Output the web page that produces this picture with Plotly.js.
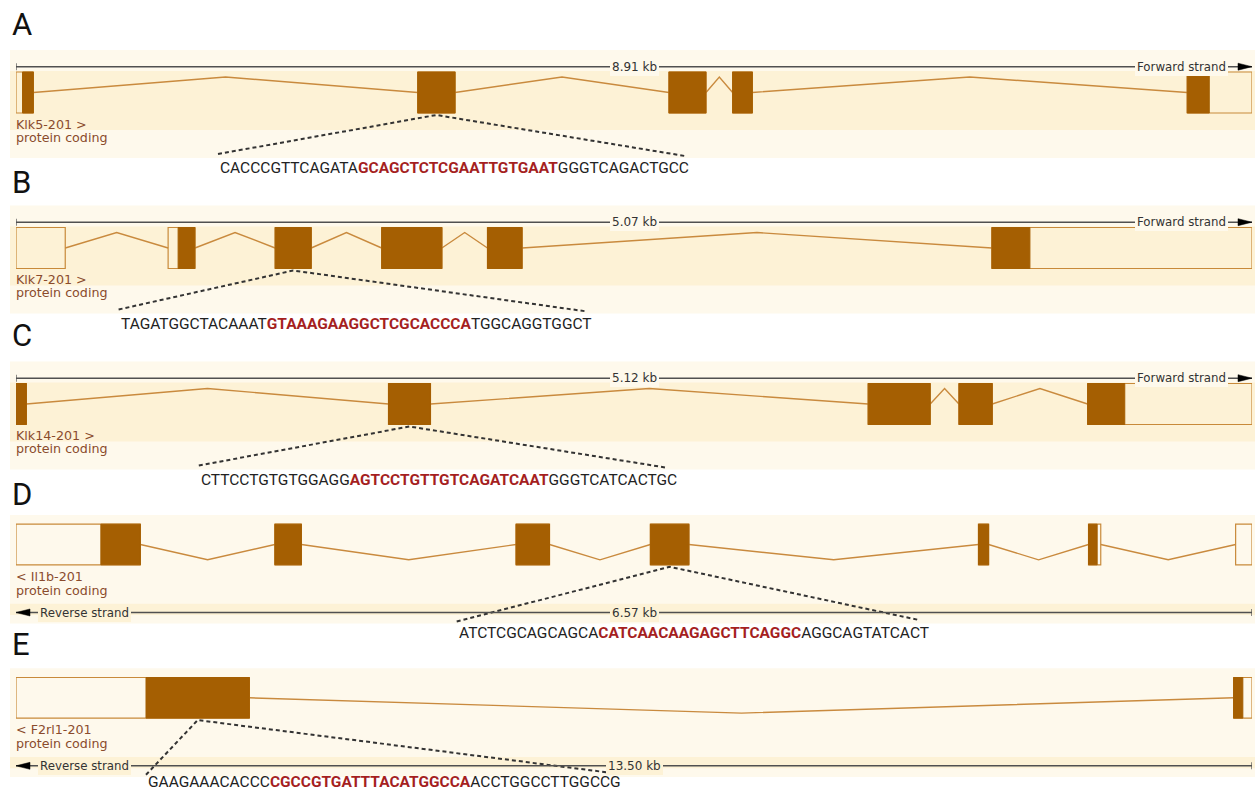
<!DOCTYPE html>
<html><head><meta charset="utf-8">
<script src="https://cdn.plot.ly/plotly-3.0.1.min.js"></script>
<style>html,body{margin:0;padding:0;background:#fff;}#chart{width:1255px;height:793px;}</style>
</head><body><div id="chart"></div>
<script>
// ---------------- data ----------------
const panelLetters = ['A', 'B', 'C', 'D', 'E'];
const transcripts = ['Klk5-201', 'Klk7-201', 'Klk14-201', 'Il1b-201', 'F2rl1-201'];
const biotypes = ['protein coding', 'protein coding', 'protein coding', 'protein coding', 'protein coding'];
const strands = ['forward', 'forward', 'forward', 'reverse', 'reverse'];
const lengthKb = [8.91, 5.07, 5.12, 6.57, 13.50];

// exon coordinates in kb from the left end of each track
const klk5Starts  = [0, 2.896, 4.707, 5.166, 8.443];
const klk5Ends    = [0.125, 3.165, 4.974, 5.308, 8.91];
const klk7Starts  = [0, 0.624, 1.063, 1.500, 1.934, 4.003];
const klk7Ends    = [0.202, 0.734, 1.211, 1.747, 2.076, 5.07];
const klk14Starts = [0, 1.543, 3.530, 3.906, 4.439];
const klk14Ends   = [0.043, 1.717, 3.787, 4.044, 5.12];
const il1bStarts  = [0, 1.376, 2.658, 3.372, 5.116, 5.701, 6.483];
const il1bEnds    = [0.661, 1.517, 2.836, 3.577, 5.170, 5.766, 6.57];
const f2rl1Starts = [0, 13.299];
const f2rl1Ends   = [2.549, 13.50];
const exonStarts = [klk5Starts, klk7Starts, klk14Starts, il1bStarts, f2rl1Starts];
const exonEnds   = [klk5Ends, klk7Ends, klk14Ends, il1bEnds, f2rl1Ends];

// coding region (kb) of each transcript
const cdsStartKb = [0.047, 0.665, 0, 0.451, 1.42];
const cdsEndKb   = [8.602, 4.159, 4.593, 5.747, 13.40];

// exon targeted by the guide (0-based)
const guideExon = [1, 2, 1, 3, 0];

// guide sequences (flank, guide, flank)
const seqBefore = ['CACCCGTTCAGATA', 'TAGATGGCTACAAAT', 'CTTCCTGTGTGGAGG', 'ATCTCGCAGCAGCA', 'GAAGAAACACCC'];
const seqGuide  = ['GCAGCTCTCGAATTGTGAAT', 'GTAAAGAAGGCTCGCACCCA', 'AGTCCTGTTGTCAGATCAAT', 'CATCAACAAGAGCTTCAGGC', 'CGCCGTGATTTACATGGCCA'];
const seqAfter  = ['GGGTCAGACTGCC', 'TGGCAGGTGGCT', 'GGGTCATCACTGC', 'AGGCAGTATCACT', 'ACCTGGCCTTGGCCG'];

// ---------------- layout / style ----------------
const W = 1255, H = 793;
const TRACK_L = 16, TRACK_R = 1252;
const panelTop = [50, 205.5, 361.5, 515, 668.3];
const letterY = [24, 182, 335, 494, 644];
const seqLeftPx = [218, 118.6, 198.8, 456.7, 146];
const seqRightPx = [685, 587.2, 665.5, 918.9, 614.3];

const LIGHT = '#fef9ec', DARK = '#fdf2d6';
const EXON_FILL = '#a55f02', EXON_LINE = '#c88a3a', INTRON = '#c98a3e';
const LABEL = '#8a4b2c', SCALE = '#505050', GUIDE_RED = '#a51f1f';

const traces = [];
const shapes = [];
const annotations = [];
const layout = {
  width: W, height: H,
  margin: {l: 0, r: 0, t: 0, b: 0},
  paper_bgcolor: '#ffffff', plot_bgcolor: 'rgba(0,0,0,0)',
  showlegend: false,
  yaxis: {range: [H, 0], domain: [0, 1], visible: false, fixedrange: true},
  shapes: shapes, annotations: annotations,
  hovermode: false
};

for (let i = 0; i < 5; i++) {
  const xa = i === 0 ? 'x' : 'x' + (i + 1);
  const axName = i === 0 ? 'xaxis' : 'xaxis' + (i + 1);
  const L = lengthKb[i];
  const T = panelTop[i];
  const fwd = strands[i] === 'forward';
  const ax = {domain: [TRACK_L / W, TRACK_R / W], range: [0, L], visible: false, fixedrange: true, anchor: 'y'};
  if (i > 0) ax.overlaying = 'x';
  layout[axName] = ax;
  const kb = px => (px - TRACK_L) / (TRACK_R - TRACK_L) * L;

  const g = fwd ? {
    exonTop: T + 22, exonBot: T + 63, scaleY: T + 16.7, dark: [T + 21, T + 80],
    lab1: T + 74, lab2: T + 87, bandBot: T + 108, seqY: T + 118, dotL: T + 104, dotR: T + 106
  } : {
    exonTop: T + 9.2, exonBot: T + 49.8, scaleY: T + 97.5, dark: [T + 88.7, T + 100],
    lab1: T + 61, lab2: T + 75, bandBot: T + 108.6, seqY: T + 118, dotL: T + 106.5, dotR: T + 105
  };
  const mid = (g.exonTop + g.exonBot) / 2;
  const bend = fwd ? g.exonTop + 5 : g.exonBot - 5;

  // background bands
  shapes.push({type: 'rect', xref: 'paper', yref: 'y', x0: 10 / W, x1: 1, y0: T, y1: g.bandBot,
    fillcolor: LIGHT, line: {width: 0}, layer: 'below'});
  shapes.push({type: 'rect', xref: 'paper', yref: 'y', x0: 10 / W, x1: 1, y0: g.dark[0], y1: g.dark[1],
    fillcolor: DARK, line: {width: 0}, layer: 'below'});

  // introns
  const starts = exonStarts[i], ends = exonEnds[i];
  const ix = [], iy = [];
  for (let e = 0; e < starts.length - 1; e++) {
    ix.push(ends[e], (ends[e] + starts[e + 1]) / 2, starts[e + 1], null);
    iy.push(mid, bend, mid, null);
  }
  traces.push({type: 'scatter', mode: 'lines', x: ix, y: iy, xaxis: xa, yaxis: 'y',
    line: {color: INTRON, width: 1.4}, hoverinfo: 'skip'});

  // exons: outline (UTR) + coding part
  for (let e = 0; e < starts.length; e++) {
    shapes.push({type: 'rect', xref: xa, yref: 'y', x0: starts[e], x1: ends[e], y0: g.exonTop, y1: g.exonBot,
      fillcolor: 'rgba(0,0,0,0)', line: {color: EXON_LINE, width: 1.2}});
    const c0 = Math.max(starts[e], cdsStartKb[i]), c1 = Math.min(ends[e], cdsEndKb[i]);
    if (c1 > c0) {
      shapes.push({type: 'rect', xref: xa, yref: 'y', x0: c0, x1: c1, y0: g.exonTop, y1: g.exonBot,
        fillcolor: EXON_FILL, line: {color: EXON_FILL, width: 1}});
    }
  }

  // scale bar
  shapes.push({type: 'line', xref: xa, yref: 'y', x0: 0, x1: L, y0: g.scaleY, y1: g.scaleY,
    line: {color: SCALE, width: 1.6}});
  const tickX = fwd ? 0 : L;
  shapes.push({type: 'line', xref: xa, yref: 'y', x0: tickX, x1: tickX, y0: g.scaleY - 3.5, y1: g.scaleY + 3.5,
    line: {color: SCALE, width: 1.3}});
  shapes.push({type: 'path', xref: xa, yref: 'y', xsizemode: 'pixel', ysizemode: 'pixel',
    xanchor: fwd ? L : 0, yanchor: g.scaleY,
    path: fwd ? 'M-14,-3.5L0,0L-14,3.5Z' : 'M14,-3.5L0,0L14,3.5Z',
    fillcolor: '#000', line: {color: '#000', width: 0.5}});
  const scaleBg = fwd ? LIGHT : DARK;
  annotations.push({xref: xa, yref: 'y', x: L / 2, y: g.scaleY, text: L.toFixed(2) + ' kb',
    showarrow: false, bgcolor: scaleBg, borderpad: 2, borderwidth: 0,
    font: {family: 'DejaVu Sans', size: 12, color: '#333'}});
  annotations.push({xref: 'paper', yref: 'y', x: fwd ? 1228 / W : 38 / W, y: g.scaleY,
    xanchor: fwd ? 'right' : 'left', text: fwd ? 'Forward strand' : 'Reverse strand',
    showarrow: false, bgcolor: scaleBg, borderpad: 2, borderwidth: 0,
    font: {family: 'DejaVu Sans', size: 11.8, color: '#333'}});

  // transcript labels
  const name = fwd ? transcripts[i] + ' &gt;' : '&lt; ' + transcripts[i];
  annotations.push({xref: 'paper', yref: 'y', x: 14 / W, y: g.lab1, xanchor: 'left', yanchor: 'middle',
    text: name, showarrow: false, font: {family: 'DejaVu Sans', size: 12.7, color: LABEL}});
  annotations.push({xref: 'paper', yref: 'y', x: 14 / W, y: g.lab2, xanchor: 'left', yanchor: 'middle',
    text: biotypes[i], showarrow: false, font: {family: 'DejaVu Sans', size: 12.7, color: LABEL}});

  // callout dotted lines to the guide exon
  const ge = guideExon[i];
  const a0 = Math.max(exonStarts[i][ge], cdsStartKb[i]), a1 = Math.min(exonEnds[i][ge], cdsEndKb[i]);
  const apex = (a0 + a1) / 2;
  traces.push({type: 'scatter', mode: 'lines', xaxis: xa, yaxis: 'y',
    x: [kb(seqLeftPx[i]), apex, kb(seqRightPx[i])], y: [g.dotL, g.exonBot + 2, g.dotR],
    line: {color: '#333', width: 2, dash: '4px,3px'}, hoverinfo: 'skip'});

  // sequence
  const seqY = Math.min(g.seqY, H - 11);
  annotations.push({xref: 'paper', yref: 'y', x: seqLeftPx[i] / W, y: seqY, xanchor: 'left', yanchor: 'middle',
    text: seqBefore[i] + '<b><span style="color:' + GUIDE_RED + '">' + seqGuide[i] + '</span></b>' + seqAfter[i],
    showarrow: false, font: {family: 'Roboto', size: 15.5, color: '#222'}});

  // panel letter
  annotations.push({xref: 'paper', yref: 'y', x: 10 / W, y: letterY[i], xanchor: 'left', yanchor: 'middle',
    text: panelLetters[i], showarrow: false, font: {family: 'Roboto', size: 31, color: '#111'}});
}

Plotly.newPlot('chart', traces, layout, {displayModeBar: false, staticPlot: true});
</script></body></html>
